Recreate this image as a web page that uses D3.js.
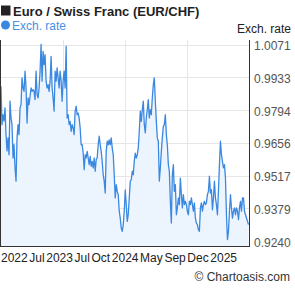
<!DOCTYPE html>
<html><head><meta charset="utf-8">
<script src="https://cdn.jsdelivr.net/npm/d3@7"></script>
<style>
html,body{margin:0;padding:0;background:#fff;}
svg{display:block;font-family:"Liberation Sans",Arial,sans-serif;}
</style></head>
<body><svg id="c" width="295" height="288"></svg>
<script>
const title = "Euro / Swiss Franc (EUR/CHF)";
const seriesName = "Exch. rate";
const xLabels = ["2022","Jul","2023","Jul","Oct","2024","May","Sep","Dec","2025"];
const yTicks = [0.9240,0.9379,0.9517,0.9656,0.9794,0.9933,1.0071];
const rates = [
0.9894,0.9732,0.9774,0.9748,0.9803,0.9690,0.9621,0.9676,0.9605,0.9831,
0.9760,0.9732,0.9591,0.9647,0.9549,0.9493,0.9676,0.9732,0.9690,0.9803,
0.9817,0.9930,0.9887,0.9873,0.9958,0.9887,0.9739,0.9845,0.9817,0.9852,
0.9887,0.9873,0.9880,0.9873,0.9838,0.9958,0.9859,0.9845,0.9887,0.9958,
1.0071,0.9916,1.0042,0.9986,1.0028,0.9916,0.9887,0.9901,0.9873,0.9916,
1.0021,0.9887,0.9845,0.9789,0.9958,0.9916,0.9972,0.9930,0.9887,0.9958,
0.9916,0.9831,0.9916,0.9958,0.9887,1.0064,0.9760,0.9774,0.9732,0.9746,
0.9704,0.9732,0.9718,0.9690,0.9789,0.9810,0.9774,0.9781,0.9760,0.9718,
0.9647,0.9647,0.9612,0.9542,0.9605,0.9591,0.9619,0.9591,0.9563,0.9598,
0.9556,0.9577,0.9549,0.9591,0.9535,0.9584,0.9591,0.9647,0.9683,0.9647,
0.9619,0.9577,0.9520,0.9493,0.9443,0.9619,0.9662,0.9647,0.9668,0.9647,
0.9676,0.9633,0.9605,0.9520,0.9422,0.9478,0.9450,0.9436,0.9366,0.9337,
0.9295,0.9281,0.9309,0.9366,0.9456,0.9394,0.9323,0.9351,0.9422,0.9493,
0.9499,0.9535,0.9520,0.9577,0.9612,0.9591,0.9605,0.9633,0.9704,0.9789,
0.9746,0.9795,0.9831,0.9732,0.9697,0.9760,0.9795,0.9838,0.9760,0.9795,
0.9774,0.9845,0.9901,0.9930,0.9831,0.9746,0.9676,0.9662,0.9493,0.9549,
0.9619,0.9676,0.9725,0.9732,0.9774,0.9690,0.9647,0.9563,0.9535,0.9408,
0.9316,0.9520,0.9563,0.9450,0.9478,0.9351,0.9380,0.9422,0.9394,0.9506,
0.9436,0.9380,0.9436,0.9394,0.9408,0.9394,0.9366,0.9351,0.9408,0.9394,
0.9422,0.9394,0.9366,0.9401,0.9337,0.9316,0.9309,0.9288,0.9281,0.9380,
0.9401,0.9366,0.9394,0.9408,0.9394,0.9401,0.9436,0.9450,0.9514,0.9443,
0.9457,0.9372,0.9422,0.9493,0.9422,0.9394,0.9351,0.9450,0.9563,0.9662,
0.9605,0.9577,0.9549,0.9563,0.9506,0.9350,0.9246,0.9281,0.9366,0.9436,
0.9380,0.9337,0.9366,0.9380,0.9351,0.9380,0.9366,0.9330,0.9380,0.9408,
0.9366,0.9422,0.9422,0.9366,0.9351,0.9337,0.9323,0.9309
];

const svg = d3.select("#c");
const L = 1, R = 249, T = 40, B = 246.5;
const x = d3.scaleLinear().domain([0, rates.length - 1]).range([L, R - 0.5]);
const y = d3.scaleLinear().domain([yTicks[0], yTicks[yTicks.length-1]]).range([241, 44.5]);

// grid
const grid = svg.append("g");
grid.selectAll("line.h").data(yTicks.slice(1)).enter().append("line")
  .attr("x1", L).attr("x2", R).attr("y1", d => Math.round(y(d))+0.5).attr("y2", d => Math.round(y(d))+0.5)
  .attr("stroke", "#e6e6e6").attr("stroke-width", 1);
const xg = d3.scaleLinear().domain([0,4]).range([L, R]);
grid.selectAll("line.v").data([1,2,3]).enter().append("line")
  .attr("x1", d => Math.round(xg(d))+0.5).attr("x2", d => Math.round(xg(d))+0.5)
  .attr("y1", T).attr("y2", B).attr("stroke", "#e6e6e6").attr("stroke-width", 1);

// area + line
const area = d3.area().x((d,i) => x(i)).y0(B).y1(d => y(d));
svg.append("path").datum(rates).attr("d", area).attr("fill", "#ecf5fe");
const line = d3.line().x((d,i) => x(i)).y(d => y(d));
svg.append("path").datum(rates).attr("d", line).attr("fill", "none")
  .attr("stroke", "#3b88e0").attr("stroke-width", 1.3).attr("stroke-linejoin", "round");

// frame
svg.append("line").attr("x1", 0.5).attr("x2", 0.5).attr("y1", T).attr("y2", B).attr("stroke", "#333");
svg.append("line").attr("x1", R+0.5).attr("x2", R+0.5).attr("y1", T).attr("y2", B).attr("stroke", "#333");
svg.append("line").attr("x1", 0).attr("x2", R+1).attr("y1", B).attr("y2", B).attr("stroke", "#333");

// right axis
const yAxis = d3.axisRight(y).tickValues(yTicks).tickSize(0).tickPadding(0).tickFormat(d3.format(".4f"));
const ya = svg.append("g").attr("transform", `translate(${R+5},0)`).call(yAxis);
ya.select(".domain").remove();
ya.selectAll("text").attr("font-size", 12).attr("fill", "#555").attr("font-family", "Liberation Sans, Arial, sans-serif")
  .attr("dy", "0.42em");

svg.append("text").attr("x", 291).attr("y", 32.5).attr("text-anchor", "end")
  .attr("font-size", 12).attr("fill", "#222").text(seriesName);

// x labels, flowed left to right to fill the label strip [1, 237]
const labG = svg.append("g");
const labs = labG.selectAll("text").data(xLabels).enter().append("text")
  .attr("y", 262).attr("font-size", 12).attr("fill", "#222").text(d => d);
const widths = labs.nodes().map(n => n.getComputedTextLength());
const total = d3.sum(widths);
const span = 236;
let ls = 0, gap = (span - total) / (xLabels.length - 1);
if (gap < 1.5) {
  const chars = d3.sum(xLabels, d => d.length);
  ls = (span - 1.5 * (xLabels.length - 1) - total) / chars;
  gap = 1.5;
  labs.attr("letter-spacing", ls);
}
let cx = 1;
labs.each(function(d, i) {
  d3.select(this).attr("x", cx);
  cx += widths[i] + ls * d.length + gap;
});

// title and legend
svg.append("rect").attr("x", 1).attr("y", 5.5).attr("width", 9.5).attr("height", 10).attr("fill", "#222");
svg.append("text").attr("x", 13).attr("y", 16).attr("font-size", 13).attr("font-weight", "bold")
  .attr("fill", "#222").text(title);
svg.append("circle").attr("cx", 5.5).attr("cy", 25).attr("r", 4.5).attr("fill", "#3b88e0");
svg.append("text").attr("x", 12).attr("y", 29.5).attr("font-size", 12).attr("fill", "#4a90e2").text(seriesName);

svg.append("text").attr("x", 290).attr("y", 281).attr("text-anchor", "end")
  .attr("font-size", 12).attr("fill", "#333").text("© Chartoasis.com");
</script></body></html>
